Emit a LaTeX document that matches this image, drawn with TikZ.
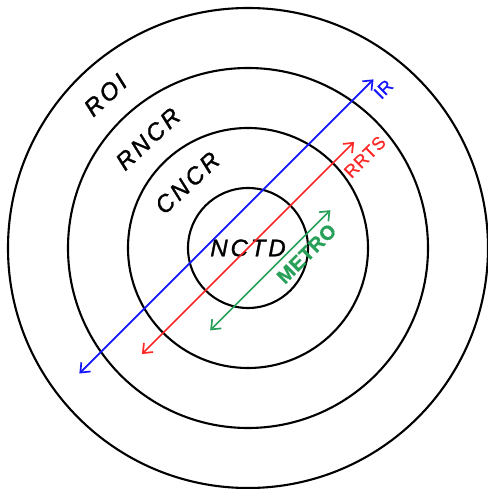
\documentclass[tikz,border=0pt]{standalone}
\usepackage{fontspec}
\setmainfont{Liberation Sans}
\newfontfamily\lblfont[LetterSpace=12,FakeBold=1.2]{Liberation Sans}
\newfontfamily\colfont[LetterSpace=3,FakeBold=0.8]{Liberation Sans}
\usetikzlibrary{arrows.meta}
\definecolor{irblue}{RGB}{20,20,255}
\definecolor{rrred}{RGB}{255,40,40}
\definecolor{megreen}{RGB}{40,160,90}
\begin{document}
\begin{tikzpicture}[x=1pt,y=1pt,
  ring/.style={circle,draw=black,line width=2.1pt,inner sep=0pt,minimum size=#1},
  zone/.style={font=\lblfont\itshape\fontsize{24}{24}\selectfont,inner sep=0pt},
  line/.style={line width=1.7pt,{Straight Barb[length=8pt,width=13pt]}-{Straight Barb[length=8pt,width=13pt]}},
  tag/.style={font=\colfont\fontsize{18}{18}\selectfont,sloped,inner sep=0pt}]
\useasboundingbox (-248,-241) rectangle (239,248);
\node[ring=480pt] (c1) at (0,0) {};
\node[ring=360pt] (c2) at (0,0) {};
\node[ring=240pt] (c3) at (0,0) {};
\node[ring=120pt] (c4) at (0,0) {};
\node[zone,rotate=43] (roi) at (133:209) {ROI};
\node[zone,rotate=43] (rncr) at (132.5:148) {RNCR};
\node[zone,rotate=43] (cncr) at (133:89) {CNCR};
\node[zone] (nctd) at (0,0) {NCTD};
\begin{scope}[rotate=45]
\coordinate (b1) at (-208,30.5);
\coordinate (b2) at (208,30.5);
\coordinate (r1) at (-150,0);
\coordinate (r2) at (150,0);
\coordinate (g1) at (-85,-31.5);
\coordinate (g2) at (85,-31.5);
\end{scope}
\draw[line,irblue] (b1) -- (b2) node[tag,text=irblue,pos=1,below=7pt] (ir) {IR};
\draw[line,rrred] (r1) -- (r2) node[tag,text=rrred,pos=0.99,below=11pt] (rrts) {RRTS};
\draw[line,megreen] (g1) -- (g2) node[tag,text=megreen,pos=0.72,below=6pt,font=\colfont\bfseries\fontsize{20}{20}\selectfont] (metro) {METRO};
\end{tikzpicture}
\end{document}
